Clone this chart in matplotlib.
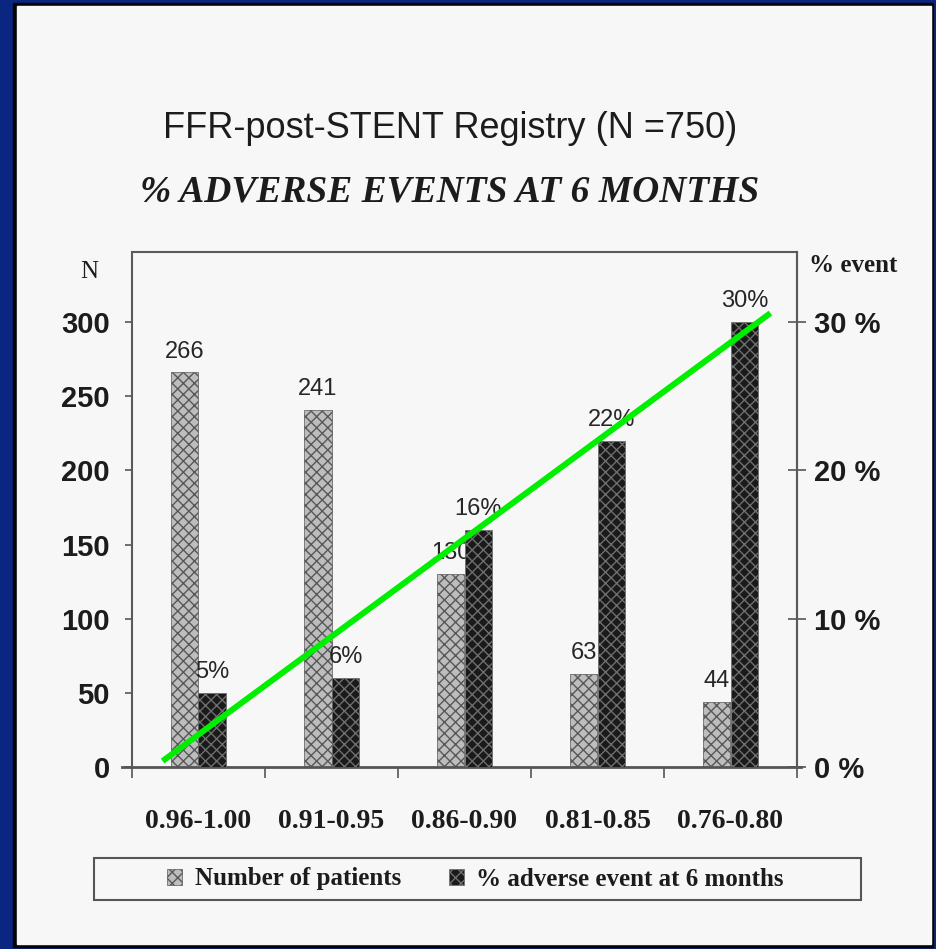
import numpy as np
import matplotlib
matplotlib.use("Agg")
import matplotlib.pyplot as plt
from matplotlib.patches import Rectangle
from matplotlib.lines import Line2D

# --- dados do registro FFR-post-STENT
faixas_ffr = ["0.96-1.00", "0.91-0.95", "0.86-0.90", "0.81-0.85", "0.76-0.80"]
n_pacientes = [266, 241, 130, 63, 44]
pct_eventos = [5, 6, 16, 22, 30]

# reta de tendência desenhada por cima (x em categorias, y em %)
tendencia_x = [-0.27, 4.30]
tendencia_pct = [0.4, 30.6]

ticks_n = [0, 50, 100, 150, 200, 250, 300]
ticks_pct = [0, 10, 20, 30]

SANS = "Liberation Sans"
SERIF = "Liberation Serif"
TXT = "#1c1c1c"
W, H = 937, 949


def fx(px):
    return px / W


def fy(py):
    return 1 - py / H


plt.rcParams["hatch.linewidth"] = 1.0

fig = plt.figure(figsize=(W / 100, H / 100), dpi=100, facecolor="#0b2680")

# moldura do slide
fig.patches.append(Rectangle((fx(13), fy(947)), fx(933) - fx(13), (947 - 3) / H,
                             transform=fig.transFigure, color="#050505", zorder=-20))
fig.patches.append(Rectangle((fx(17), fy(944)), fx(931) - fx(17), (944 - 6) / H,
                             transform=fig.transFigure, color="#f7f7f7", zorder=-19))

ax = fig.add_axes([fx(132), fy(767), (797 - 132) / W, (767 - 252) / H])
ax.set_facecolor("none")
ax2 = ax.twinx()

x = np.arange(len(faixas_ffr))
larg = 0.21

barras_n = ax.bar(x - larg / 2, n_pacientes, larg, color="#bdbdbd", edgecolor="#585858",
                  hatch="xxx", linewidth=0.5, label="Number of patients")
barras_pct = ax2.bar(x + larg / 2, pct_eventos, larg, color="#1a1a1a", edgecolor="#6e6e6e",
                     hatch="xxx", linewidth=0.5, label="% adverse event at 6 months")

ax.bar_label(barras_n, labels=[str(v) for v in n_pacientes], padding=7,
             fontsize=17, family=SANS, color="#262626")
ax2.bar_label(barras_pct, labels=[f"{v}%" for v in pct_eventos], padding=7,
              fontsize=17, family=SANS, color="#262626")

ax2.plot(tendencia_x, tendencia_pct, color="#00ee00", linewidth=4.3,
         solid_capstyle="butt", zorder=5)

ax.set_xlim(-0.5, 4.5)
ax.set_ylim(0, 347.2)
ax2.set_ylim(0, 34.72)

# eixo y esquerdo (N)
ax.set_yticks(ticks_n, labels=[str(t) for t in ticks_n], fontweight="bold",
              family=SANS, fontsize=21, color=TXT)
ax.tick_params(axis="y", direction="out", length=5, width=1.2, color="#555555", pad=11)

# eixo y direito (% evento)
ax2.set_yticks(ticks_pct, labels=[f"{t} %" for t in ticks_pct], fontweight="bold",
               family=SANS, fontsize=21, color=TXT)
ax2.tick_params(axis="y", direction="inout", length=13, width=1.2, color="#555555", pad=6)

# eixo x: rótulos no centro, traços nas divisões
ax.set_xticks(x, labels=faixas_ffr, fontweight="bold", family=SERIF, fontsize=20, color=TXT)
ax.set_xticks(np.arange(-0.5, 5, 1), minor=True)
ax.tick_params(axis="x", which="major", length=0, pad=30)
ax.tick_params(axis="x", which="minor", direction="out", length=8, width=1.2, color="#555555")

for nome in ["left", "right", "top"]:
    ax.spines[nome].set_color("#5a5a5a")
    ax.spines[nome].set_linewidth(1.5)
ax.spines["bottom"].set_visible(False)
for nome in ["left", "top", "bottom"]:
    ax2.spines[nome].set_visible(False)
ax2.spines["right"].set_color("#5a5a5a")
ax2.spines["right"].set_linewidth(1.5)

ax.add_line(Line2D([-0.015, 1.006], [0, 0], transform=ax.transAxes, clip_on=False,
                   color="#555555", linewidth=2))

# títulos do eixo
fig.text(fx(89.5), fy(271.5), "N", ha="center", va="center", family=SERIF,
         fontsize=18, color=TXT)
fig.text(fx(853), fy(266), "% event", ha="center", va="center", family=SERIF,
         fontweight="bold", fontsize=18, color=TXT)

# título
fig.text(fx(450), fy(128), "FFR-post-STENT Registry (N =750)", ha="center", va="center",
         family=SANS, fontsize=26, color=TXT)
fig.text(fx(450), fy(191.5), "% ADVERSE EVENTS AT 6 MONTHS", ha="center", va="center",
         family=SERIF, fontweight="bold", fontstyle="italic", fontsize=27, color=TXT)

# legenda em caixa
fig.patches.append(Rectangle((fx(94), fy(900)), (861 - 94) / W, (900 - 858) / H,
                             transform=fig.transFigure, fill=False, edgecolor="#555555",
                             linewidth=1.5))
fig.legend([barras_n, barras_pct], ["Number of patients", "% adverse event at 6 months"],
           loc="center", bbox_to_anchor=(fx(475.5), fy(879)), ncol=2, frameon=False,
           prop={"family": SERIF, "weight": "bold", "size": 18},
           handlelength=0.6, handleheight=0.6, handletextpad=0.5, columnspacing=1.9,
           labelcolor=TXT)

fig.savefig("out.png", dpi=100, facecolor=fig.get_facecolor())
